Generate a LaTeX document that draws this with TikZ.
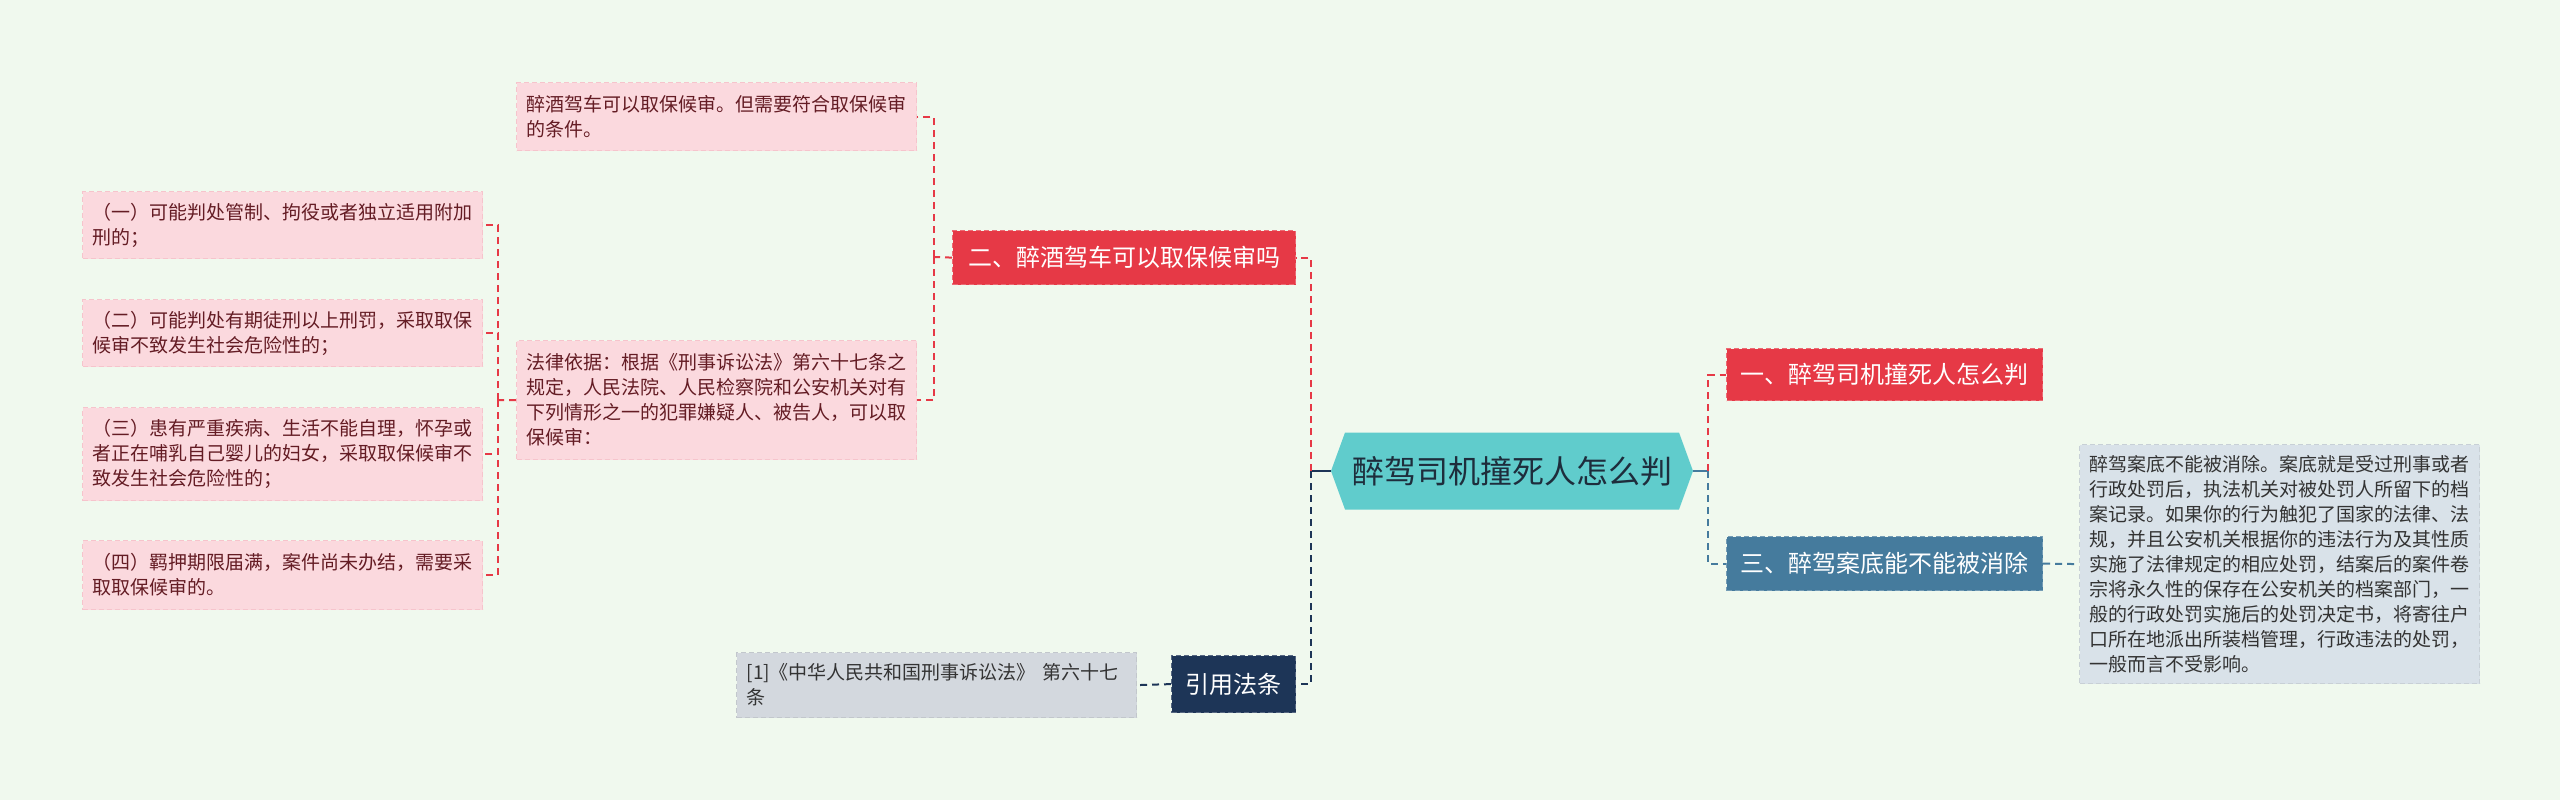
\documentclass[tikz,border=0pt]{standalone}
\usepackage{fontspec}
\setmainfont{Noto Sans CJK SC}
\usetikzlibrary{shapes.symbols,positioning}
\definecolor{bgcol}{RGB}{240,249,238}
\definecolor{pinkfill}{RGB}{251,217,222}
\definecolor{pinkline}{RGB}{246,196,204}
\definecolor{pinktext}{RGB}{100,28,36}
\definecolor{redcol}{RGB}{230,57,70}
\definecolor{steelcol}{RGB}{69,123,157}
\definecolor{navycol}{RGB}{29,53,87}
\definecolor{rootfill}{RGB}{96,204,204}
\definecolor{roottext}{RGB}{30,45,60}
\definecolor{greyfill}{RGB}{211,216,222}
\definecolor{descfill}{RGB}{217,226,233}
\tikzset{%
    root/.style={%
        signal, signal to=west and east, signal pointer angle=140, fill=rootfill, text=roottext,
        minimum width=362pt, minimum height=77pt, inner sep=0pt, font=\fontsize{32}{38}\selectfont
    },
    topic/.style={%
        draw=#1!75!white, dash pattern=on 5pt off 3pt, line width=1.2pt, fill=#1, text=white,
        anchor=north west, inner xsep=14pt, font=\fontsize{24}{28}\selectfont
    },
    leaf/.style={%
        draw=pinkline, dash pattern=on 5pt off 3pt, line width=1.2pt, fill=pinkfill, text=pinktext,
        anchor=north west, align=left, text width=380pt, inner xsep=10pt, font=\fontsize{19}{25}\selectfont
    },
    note/.style={%
        leaf, draw=#1!92!black, fill=#1, text=black!80
    },
    link/.style={%
        draw=#1, line width=2pt, dash pattern=on 7pt off 5pt
    },
    stem/.style={%
        draw=#1, line width=2.4pt
    },
}
\begin{document}
\begin{tikzpicture}[x=1pt,y=-1pt]

    \fill[bgcol] (0,0) rectangle (2560,800);
    \useasboundingbox (0,0) rectangle (2560,800);

    \node[root] (root) at (1512,471) {醉驾司机撞死人怎么判};

    \node[topic=redcol, minimum width=315pt, minimum height=52pt] (yi) at (1726,348) {一、醉驾司机撞死人怎么判};
    \node[topic=steelcol, minimum width=315pt, minimum height=54pt] (san) at (1726,536) {三、醉驾案底能不能被消除};
    \node[topic=redcol, minimum width=343pt, minimum height=54pt] (er) at (952,230) {二、醉酒驾车可以取保候审吗};
    \node[topic=navycol, minimum width=124pt, minimum height=57pt] (cite) at (1171,655) {引用法条};

    \node[note=descfill, minimum height=239pt] (desc) at (2079,444) {醉驾案底不能被消除。案底就是受过刑事或者\\行政处罚后，执法机关对被处罚人所留下的档\\案记录。如果你的行为触犯了国家的法律、法\\规，并且公安机关根据你的违法行为及其性质\\实施了法律规定的相应处罚，结案后的案件卷\\宗将永久性的保存在公安机关的档案部门，一\\般的行政处罚实施后的处罚决定书，将寄往户\\口所在地派出所装档管理，行政违法的处罚，\\一般而言不受影响。};
    \node[note=greyfill, minimum height=65pt] (ref) at (736,652) {[1]《中华人民共和国刑事诉讼法》 第六十七\\条};

    \node[leaf, minimum height=68pt] (bail) at (516,82) {醉酒驾车可以取保候审。但需要符合取保候审\\的条件。};
    \node[leaf, minimum height=119pt] (basis) at (516,340) {法律依据：根据《刑事诉讼法》第六十七条之\\规定，人民法院、人民检察院和公安机关对有\\下列情形之一的犯罪嫌疑人、被告人，可以取\\保候审：};

    \node[leaf, minimum height=67pt] (case1) at (82,191) {（一）可能判处管制、拘役或者独立适用附加\\刑的；};
    \node[leaf, minimum height=67pt] (case2) at (82,299) {（二）可能判处有期徒刑以上刑罚，采取取保\\候审不致发生社会危险性的；};
    \node[leaf, minimum height=93pt] (case3) at (82,407) {（三）患有严重疾病、生活不能自理，怀孕或\\者正在哺乳自己婴儿的妇女，采取取保候审不\\致发生社会危险性的；};
    \node[leaf, minimum height=69pt] (case4) at (82,540) {（四）羁押期限届满，案件尚未办结，需要采\\取取保候审的。};

    % elbows
    \coordinate (jleft) at (1311,471);
    \coordinate (jright) at (1708,471);
    \coordinate (jer) at (934,257);
    \coordinate (jbasis) at (498,400);

    \draw[stem=navycol] (root.west) -- (jleft);
    \draw[link=redcol] (jleft) |- (er.east);
    \draw[link=navycol] (jleft) |- (cite.east);
    \draw[link=navycol] (cite.west) -- (ref.east);

    \draw[stem=steelcol] (root.east) -- (jright);
    \draw[link=redcol] (jright) |- (yi.west);
    \draw[link=steelcol] (jright) |- (san.west);
    \draw[link=steelcol] (san.east) -- (desc.west);

    \draw[link=redcol] (er.west) -- (jer);
    \draw[link=redcol] (jer) |- (bail.east);
    \draw[link=redcol] (jer) |- (basis.east);

    \draw[link=redcol] (basis.west) -- (jbasis);
    \foreach \c in {case1,case2,case3,case4}
      \draw[link=redcol] (jbasis) |- (\c.east);

\end{tikzpicture}
\end{document}
